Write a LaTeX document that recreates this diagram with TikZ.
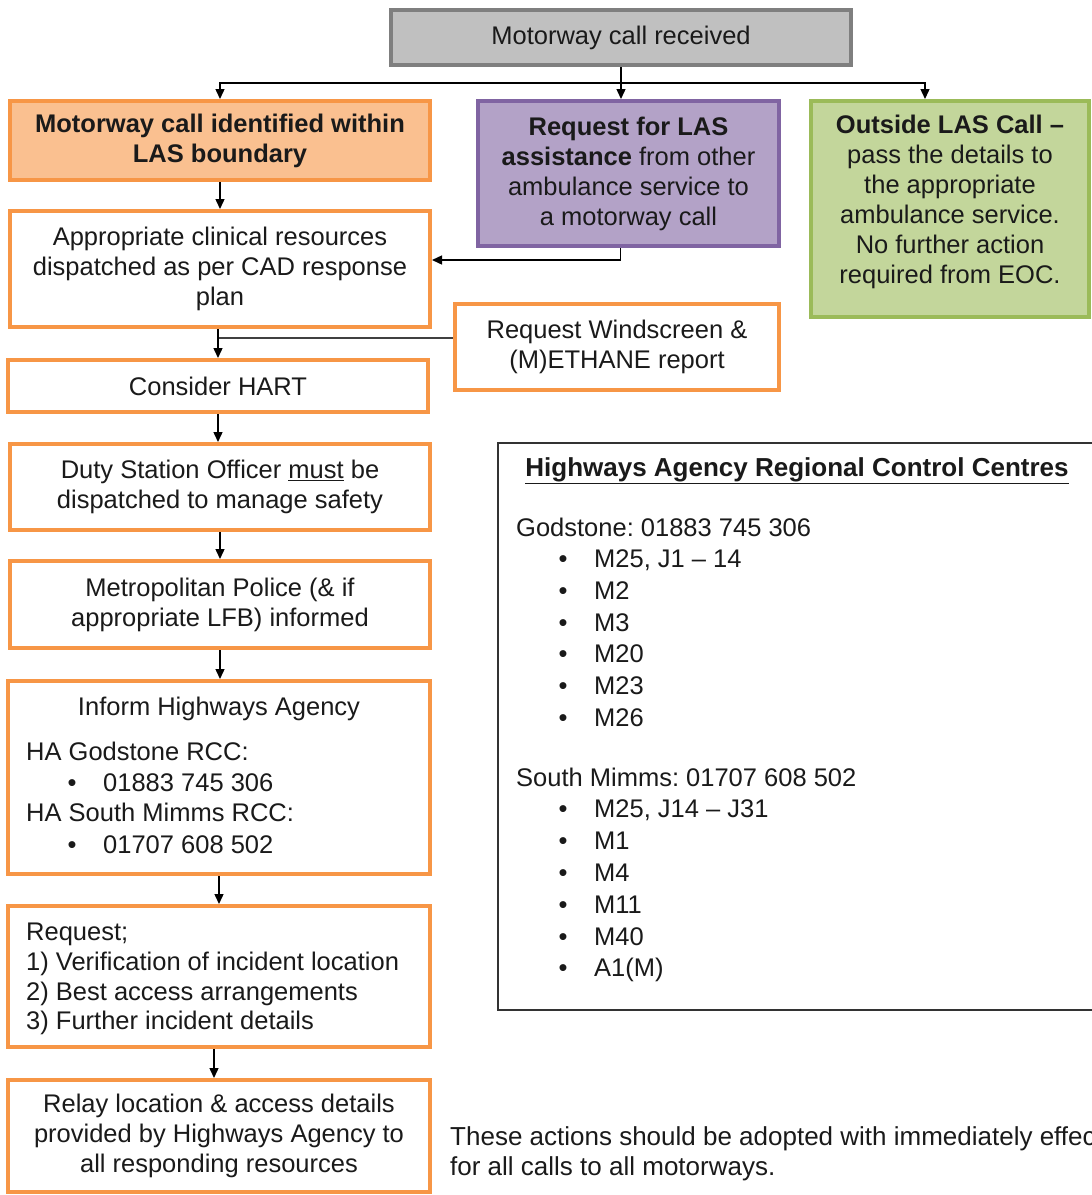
\documentclass[tikz,border=0pt]{standalone}
\usepackage{fontspec}
\setmainfont{Liberation Sans}
\usetikzlibrary{arrows.meta}
\definecolor{orgB}{HTML}{F79646}
\definecolor{orgF}{HTML}{FAC090}
\definecolor{purF}{HTML}{B3A2C7}
\definecolor{purB}{HTML}{8064A2}
\definecolor{grnF}{HTML}{C3D69B}
\definecolor{grnB}{HTML}{9BBB59}
\definecolor{gryF}{HTML}{C0C0C0}
\definecolor{gryB}{HTML}{7F7F7F}
\definecolor{txt}{HTML}{1A1A1A}
\newcommand\dfont{\fontsize{25.5}{30}\selectfont}
\newcommand\ffont{\fontsize{26}{30}\selectfont}
\frenchspacing
\begin{document}
\begin{tikzpicture}[x=1pt,y=-1pt,
  sz/.style 2 args={minimum width=#1pt, minimum height=#2pt},
  box/.style={draw=orgB, line width=4pt, fill=white, rectangle, inner sep=0pt,
    align=center, font=\dfont, text=txt},
  lbl/.style={inner sep=0pt, font=\dfont, text=txt},
  conn/.style={draw=black, line width=1.4pt, -{Triangle[length=10pt,width=9pt]}},
  gline/.style={draw=black!75, line width=1.6pt}]
\useasboundingbox (0,0) rectangle (1092,1195);
\fill[white] (0,0) rectangle (1092,1195);
\clip (0,0) rectangle (1092,1195);

% boxes
\node[box, sz={460}{55}, fill=gryF, draw=gryB] (top) at (621,37.5) {Motorway call received};
\node[box, sz={420}{79}, fill=orgF] (las) at (220,140.5) {\textbf{Motorway call identified within}\\\textbf{LAS boundary}};
\node[box, sz={301}{145}, fill=purF, draw=purB] (req) at (628.5,173.5) {\textbf{Request for LAS}\\\textbf{assistance} from other\\ambulance service to\\a motorway call};
\node[box, sz={278}{216}, fill=grnF, draw=grnB] (out) at (950,209) {};
\node[lbl, align=center] (outT) at (950,202) {\textbf{Outside LAS Call –}\\pass the details to\\the appropriate\\ambulance service.\\No further action\\required from EOC.};
\node[box, sz={420}{116}] (appr) at (220,269) {Appropriate clinical resources\\dispatched as per CAD response\\plan};
\node[box, sz={324}{86}] (wind) at (617,347) {Request Windscreen \&\\(M)ETHANE report};
\node[box, sz={420}{52}] (hart) at (218,386) {Consider HART};
\node[box, sz={420}{86}] (duty) at (220,487) {Duty Station Officer \underline{must} be\\dispatched to manage safety};
\node[box, sz={420}{87}] (metro) at (220,604.5) {Metropolitan Police (\& if\\appropriate LFB) informed};
\node[box, sz={422}{193}] (inform) at (219,777.5) {};
\node[box, sz={422}{141}] (reqd) at (219,976.5) {};
\node[box, sz={422}{112}] (relay) at (219,1136) {Relay location \& access details\\provided by Highways Agency to\\all responding resources};

% inform box text
\node[lbl, anchor=base] (i1) at (219,715) {Inform Highways Agency};
\node[lbl, anchor=base west] (i2) at (26,760) {HA Godstone RCC:};
\node[lbl, anchor=base] (i3b) at (72,791) {•};
\node[lbl, anchor=base west] (i3) at (103,791) {01883 745 306};
\node[lbl, anchor=base west] (i4) at (26,821) {HA South Mimms RCC:};
\node[lbl, anchor=base] (i5b) at (72,853) {•};
\node[lbl, anchor=base west] (i5) at (103,853) {01707 608 502};

% request box text
\node[lbl, anchor=base west] (r1) at (26,940) {Request;};
\node[lbl, anchor=base west] (r2) at (26,970) {1) Verification of incident location};
\node[lbl, anchor=base west] (r3) at (26,1000) {2) Best access arrangements};
\node[lbl, anchor=base west] (r4) at (26,1029) {3) Further incident details};

% highways box
\node[draw=black!80, line width=1.6pt, rectangle, sz={602}{567}, inner sep=0pt] (ha) at (799,726.5) {};
\node[lbl, anchor=base, font=\ffont] (hT) at (797,476) {\textbf{\underline{Highways Agency Regional Control Centres}}};
\node[lbl, anchor=base west] (g0) at (516,536) {Godstone: 01883 745 306};
\foreach \t/\y [count=\k] in {{M25, J1 – 14}/567, M2/599, M3/631, M20/662, M23/694, M26/726}{
  \node[lbl, anchor=base] (gb\k) at (563,\y) {•};
  \node[lbl, anchor=base west] (g\k) at (594,\y) {\t};
}
\node[lbl, anchor=base west] (s0) at (516,786) {South Mimms: 01707 608 502};
\foreach \t/\y [count=\k] in {{M25, J14 – J31}/817, M1/849, M4/881, M11/913, M40/945, A1(M)/976}{
  \node[lbl, anchor=base] (sb\k) at (563,\y) {•};
  \node[lbl, anchor=base west] (s\k) at (594,\y) {\t};
}

% footer
\node[lbl, anchor=base west, font=\ffont] (f1) at (450,1145) {These actions should be adopted with immediately effect};
\node[lbl, anchor=base west, font=\ffont] (f2) at (450,1175) {for all calls to all motorways.};

% connectors
\coordinate (sp) at (621,83);
\draw[gline] ([xshift=-401pt]sp) -- ([xshift=304pt]sp);
\draw[conn] (top.south) -- (top.south |- req.north);
\draw[conn] (sp) -| (las.north);
\draw[conn] (sp) -| ([xshift=-25pt]out.north);
\draw[conn] ([xshift=-8pt]req.south) |- ([yshift=9pt]appr.east);
\draw[conn] (las.south) -- (las.south |- appr.north);
\draw[gline] ([yshift=9pt]wind.west) -- ([yshift=9pt]wind.west -| hart.north);
\draw[conn] (hart.north |- appr.south) -- (hart.north);
\draw[conn] (hart.south) -- (hart.south |- duty.north);
\draw[conn] (duty.south) -- (duty.south |- metro.north);
\draw[conn] (metro.south) -- (metro.south |- inform.north);
\draw[conn] (inform.south) -- (inform.south |- reqd.north);
\draw[conn] ([xshift=-5pt]reqd.south) -- ([xshift=-5pt]reqd.south |- relay.north);
\end{tikzpicture}
\end{document}
